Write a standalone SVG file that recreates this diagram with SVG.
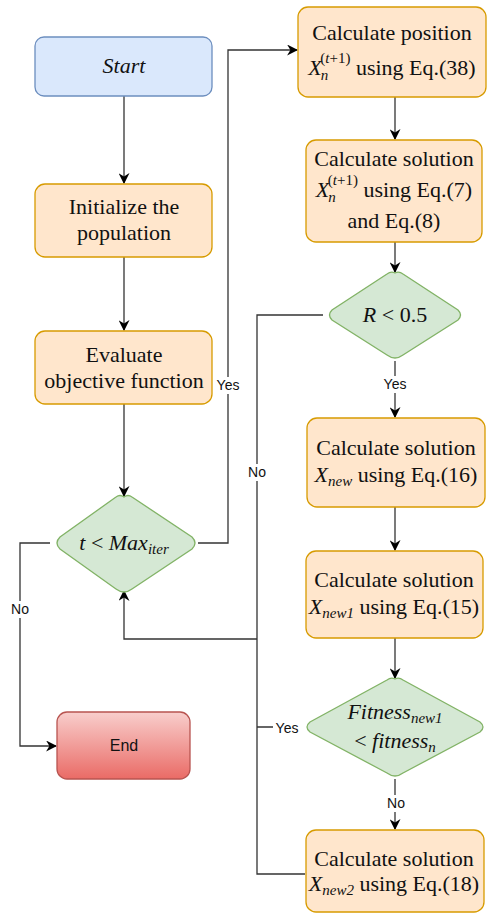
<svg xmlns="http://www.w3.org/2000/svg" width="487" height="915" viewBox="0 0 487 915">
<style>
.proc{fill:#ffe6cc;stroke:#d79b00;stroke-width:1.3}
.dec{fill:#d5e8d4;stroke:#82b366;stroke-width:1.3}
.t{font-family:"Liberation Serif","DejaVu Serif",serif;font-size:22px;fill:#111;text-anchor:middle}
.i{font-style:italic}
.s{font-size:15px}
.lbl{font-family:"Liberation Sans",Arial,sans-serif;font-size:14px;fill:#111;text-anchor:middle}
.lb{fill:#fff}
.c{fill:none;stroke:#333;stroke-width:1.3}
</style>
<defs>
<marker id="ar" viewBox="0 0 10 10" refX="9" refY="5" markerWidth="11" markerHeight="11" markerUnits="userSpaceOnUse" orient="auto">
<path d="M0,0 L10,5 L0,10 L3,5 z" fill="#000"/>
</marker>
<linearGradient id="rg" x1="0" y1="0" x2="0" y2="1">
<stop offset="0" stop-color="#f8cecc"/>
<stop offset="1" stop-color="#ea6b66"/>
</linearGradient>
</defs>

<g id="connectors">
<path class="c" d="M124,96 V183" marker-end="url(#ar)"/>
<path class="c" d="M124,257 V330" marker-end="url(#ar)"/>
<path class="c" d="M124,404 V496" marker-end="url(#ar)"/>
<path class="c" d="M50,543 H20 V746 H56" marker-end="url(#ar)"/>
<path class="c" d="M198,543 H228 V50 H297" marker-end="url(#ar)"/>
<path class="c" d="M395,97 V139" marker-end="url(#ar)"/>
<path class="c" d="M395,242 V272" marker-end="url(#ar)"/>
<path class="c" d="M395,361 V417" marker-end="url(#ar)"/>
<path class="c" d="M395,507 V550" marker-end="url(#ar)"/>
<path class="c" d="M395,638 V678" marker-end="url(#ar)"/>
<path class="c" d="M395,779 V829" marker-end="url(#ar)"/>
<path class="c" d="M323,315 H257 V874 H305"/>
<path class="c" d="M300,727 H257"/>
<path class="c" d="M257,639 H124 V591" marker-end="url(#ar)"/>
<rect class="lb" x="215" y="377" width="27" height="17"/>
<text class="lbl" x="228" y="390">Yes</text>
<rect class="lb" x="9" y="601" width="22" height="17"/>
<text class="lbl" x="20" y="614">No</text>
<rect class="lb" x="246" y="464" width="22" height="17"/>
<text class="lbl" x="257" y="477">No</text>
<rect class="lb" x="381" y="376" width="28" height="17"/>
<text class="lbl" x="395" y="389">Yes</text>
<rect class="lb" x="273" y="720" width="28" height="17"/>
<text class="lbl" x="287" y="733">Yes</text>
<rect class="lb" x="385" y="795" width="22" height="17"/>
<text class="lbl" x="396" y="808">No</text>
</g>

<g id="start">
<rect x="35" y="37" width="177" height="59" rx="9" fill="#dae8fc" stroke="#6c8ebf" stroke-width="1.3"/>
<text class="t i" x="124" y="73">Start</text>
</g>

<g id="init">
<rect class="proc" x="35" y="184" width="177" height="73" rx="10"/>
<text class="t" x="124" y="214">Initialize the</text>
<text class="t" x="124" y="240">population</text>
</g>

<g id="evaluate">
<rect class="proc" x="35" y="331" width="177" height="73" rx="10"/>
<text class="t" x="124" y="362">Evaluate</text>
<text class="t" x="124" y="388">objective function</text>
</g>

<g id="cond-iter">
<path class="dec" d="M124,497 Q128,494 132,497 L192,537 Q198,543 192,549 L132,589 Q128,592 124,592 Q120,592 116,589 L60,549 Q54,543 60,537 L116,497 Q120,494 124,497 Z"/>
<text class="t" x="124" y="550"><tspan class="i">t</tspan> &lt; <tspan class="i">Max</tspan><tspan class="i s" dy="4">iter</tspan></text>
</g>

<g id="end">
<rect x="57" y="712" width="133" height="67" rx="10" fill="url(#rg)" stroke="#b85450" stroke-width="1.3"/>
<text x="124" y="751" font-family="'Liberation Sans',Arial,sans-serif" font-size="16" fill="#111" text-anchor="middle">End</text>
</g>

<g id="calc-position">
<rect class="proc" x="298" y="7" width="188" height="90" rx="10"/>
<text class="t" x="392" y="40">Calculate position</text>
<text class="t" x="392" y="75"><tspan class="i">X</tspan><tspan class="i s" dx="-1" dy="5">n</tspan><tspan class="s" dx="-8" dy="-17">(</tspan><tspan class="i s">t</tspan><tspan class="s">+1)</tspan><tspan dy="12"> using Eq.(38)</tspan></text>
</g>

<g id="calc-solution-7">
<rect class="proc" x="306" y="140" width="176" height="102" rx="10"/>
<text class="t" x="394" y="166">Calculate solution</text>
<text class="t" x="394" y="197"><tspan class="i">X</tspan><tspan class="i s" dx="-1" dy="5">n</tspan><tspan class="s" dx="-8" dy="-17">(</tspan><tspan class="i s">t</tspan><tspan class="s">+1)</tspan><tspan dy="12"> using Eq.(7)</tspan></text>
<text class="t" x="394" y="228">and Eq.(8)</text>
</g>

<g id="cond-r">
<path class="dec" d="M395,273 Q399,271 403,274 L458,310 Q463,315 458,320 L403,355 Q399,358 395,358 Q391,358 387,355 L332,320 Q327,315 332,310 L387,274 Q391,271 395,273 Z"/>
<text class="t" x="395" y="322"><tspan class="i">R</tspan> &lt; 0.5</text>
</g>

<g id="calc-xnew">
<rect class="proc" x="307" y="418" width="178" height="89" rx="10"/>
<text class="t" x="396" y="455">Calculate solution</text>
<text class="t" x="396" y="482"><tspan class="i">X</tspan><tspan class="i s" dy="4">new</tspan><tspan dy="-4"> using Eq.(16)</tspan></text>
</g>

<g id="calc-xnew1">
<rect class="proc" x="306" y="551" width="177" height="87" rx="10"/>
<text class="t" x="394" y="587">Calculate solution</text>
<text class="t" x="394" y="614"><tspan class="i">X</tspan><tspan class="i s" dy="4">new1</tspan><tspan dy="-4"> using Eq.(15)</tspan></text>
</g>

<g id="cond-fitness">
<path class="dec" d="M395,679 Q399,677 403,680 L480,722 Q486,727 480,732 L403,773 Q399,776 395,776 Q391,776 387,773 L310,732 Q304,727 310,722 L387,680 Q391,677 395,679 Z"/>
<text class="t i" x="395" y="719">Fitness<tspan class="s" dy="4">new1</tspan></text>
<text class="t" x="395" y="748">&lt; <tspan class="i">fitness</tspan><tspan class="i s" dy="4">n</tspan></text>
</g>

<g id="calc-xnew2">
<rect class="proc" x="306" y="830" width="178" height="82" rx="10"/>
<text class="t" x="394" y="866">Calculate solution</text>
<text class="t" x="394" y="891"><tspan class="i">X</tspan><tspan class="i s" dy="4">new2</tspan><tspan dy="-4"> using Eq.(18)</tspan></text>
</g>
</svg>
